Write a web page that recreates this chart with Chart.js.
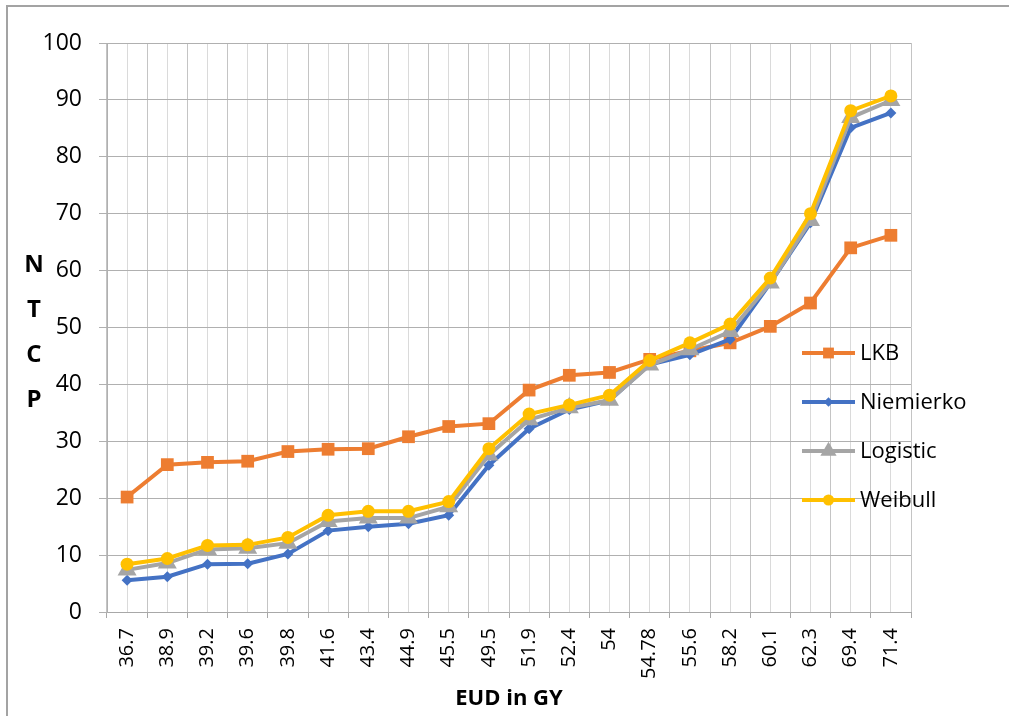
<!DOCTYPE html>
<html>
<head>
<meta charset="utf-8">
<script src="https://cdn.jsdelivr.net/npm/chart.js@4/dist/chart.umd.min.js"></script>
<style>
  html, body { margin: 0; padding: 0; background: #fff; }
  #wrap { position: relative; width: 1009px; height: 716px; overflow: hidden; }
  #frame { position: absolute; left: 6px; top: 5px; width: 1100px; height: 800px; border: 2px solid #a3a3a3; }
  canvas { position: absolute; left: 0; top: 0; }
</style>
</head>
<body>
<div id="wrap">
  <div id="frame"></div>
  <canvas id="c" width="1009" height="716"></canvas>
</div>
<script>
// EUD values (Gy) on the category axis
const eudLabels = ['36.7','38.9','39.2','39.6','39.8','41.6','43.4','44.9','45.5','49.5',
                   '51.9','52.4','54','54.78','55.6','58.2','60.1','62.3','69.4','71.4'];

// NTCP (%) per model
const lkb       = [20.2, 25.9, 26.3, 26.5, 28.2, 28.6, 28.7, 30.8, 32.6, 33.1,
                   39.0, 41.6, 42.1, 44.4, 45.9, 47.3, 50.2, 54.3, 64.0, 66.2];
const niemierko = [5.6, 6.2, 8.4, 8.5, 10.2, 14.3, 15.0, 15.5, 17.0, 25.8,
                   32.2, 35.6, 37.2, 43.5, 45.2, 47.9, 57.8, 68.4, 85.1, 87.7];
const logistic  = [7.4, 8.6, 11.0, 11.2, 12.1, 15.9, 16.5, 16.5, 18.5, 27.6,
                   33.8, 35.9, 37.2, 43.4, 46.1, 49.3, 57.8, 68.8, 86.9, 89.9];
const weibull   = [8.4, 9.4, 11.7, 11.8, 13.1, 17.0, 17.7, 17.7, 19.4, 28.7,
                   34.8, 36.4, 38.1, 44.2, 47.3, 50.6, 58.7, 70.0, 88.1, 90.7];

// y axis range and step
const yMin = 0, yMax = 100, yStep = 10;

// vertical axis title, one letter per line
const sideTitle = ['N', 'T', 'C', 'P'];
const xTitle = 'EUD in GY';

const FONT = '"Open Sans", "Noto Sans", sans-serif';

function drawMarker(ctx, style, x, y, r, color) {
  ctx.fillStyle = color;
  ctx.beginPath();
  if (style === 'rect') {
    const s = Math.SQRT1_2 * r;
    ctx.rect(x - s, y - s, 2 * s, 2 * s);
  } else if (style === 'rectRot') {
    ctx.moveTo(x, y - r); ctx.lineTo(x + r, y); ctx.lineTo(x, y + r); ctx.lineTo(x - r, y);
    ctx.closePath();
  } else if (style === 'triangle') {
    let a = 0;
    ctx.moveTo(x + Math.sin(a) * r, y - Math.cos(a) * r);
    a += 2 * Math.PI / 3;
    ctx.lineTo(x + Math.sin(a) * r, y - Math.cos(a) * r);
    a += 2 * Math.PI / 3;
    ctx.lineTo(x + Math.sin(a) * r, y - Math.cos(a) * r);
    ctx.closePath();
  } else {
    ctx.arc(x, y, r, 0, Math.PI * 2);
  }
  ctx.fill();
}

// stacked y title and the legend that sits over the right part of the plot
const overlay = {
  id: 'overlay',
  afterDraw(chart) {
    const ctx = chart.ctx;
    ctx.save();
    ctx.fillStyle = '#000';
    ctx.textAlign = 'center';
    ctx.textBaseline = 'middle';
    ctx.font = 'bold 24px ' + FONT;
    sideTitle.forEach((ch, i) => ctx.fillText(ch, 34, 265 + i * 45));

    chart.data.datasets.forEach((ds, i) => {
      const y = 353 + i * 49;
      ctx.strokeStyle = ds.borderColor;
      ctx.lineWidth = ds.borderWidth;
      ctx.beginPath();
      ctx.moveTo(802, y);
      ctx.lineTo(855, y);
      ctx.stroke();
      drawMarker(ctx, ds.pointStyle, 828.5, y, ds.pointRadius * 0.85, ds.pointBackgroundColor);
      ctx.fillStyle = '#000';
      ctx.textAlign = 'left';
      ctx.font = '22px ' + FONT;
      ctx.fillText(ds.label, 860, y + 1);
    });
    ctx.restore();
  }
};

function series(label, data, color, style, radius, order) {
  return {
    label, data, order,
    borderColor: color, backgroundColor: color,
    pointBackgroundColor: color, pointBorderColor: color,
    pointStyle: style, pointRadius: radius, pointBorderWidth: 0,
    borderWidth: 4, tension: 0, fill: false
  };
}

new Chart(document.getElementById('c'), {
  type: 'line',
  data: {
    labels: eudLabels,
    datasets: [
      series('LKB', lkb, '#ED7D31', 'rect', 9, 4),
      series('Niemierko', niemierko, '#4472C4', 'rectRot', 5.5, 3),
      series('Logistic', logistic, '#A5A5A5', 'triangle', 11, 2),
      series('Weibull', weibull, '#FFC000', 'circle', 6.5, 1)
    ]
  },
  options: {
    responsive: false,
    animation: false,
    devicePixelRatio: 1,
    layout: { padding: { top: 43, right: 98, left: 0, bottom: 0 } },
    plugins: { legend: { display: false }, tooltip: { enabled: false } },
    scales: {
      x: {
        type: 'category',
        position: 'bottom',
        offset: true,
        grid: { offset: true, color: '#c4c4c4', tickColor: '#a8a8a8', tickLength: 6, lineWidth: 1 },
        border: { color: '#a8a8a8' },
        ticks: {
          autoSkip: false, minRotation: 90, maxRotation: 90, padding: 10,
          color: '#000', font: { family: FONT, size: 20 }
        },
        title: {
          display: true, text: xTitle, color: '#000',
          font: { family: FONT, size: 22, weight: 'bold' }, padding: { top: 4, bottom: 4 }
        },
        afterFit(s) { s.height = 104; }
      },
      xMinor: {
        type: 'category',
        position: 'top',
        offset: true,
        grid: { offset: false, color: '#dadada', drawTicks: false, lineWidth: 1 },
        border: { display: false },
        ticks: { display: false },
        afterFit(s) { s.height = 0; }
      },
      y: {
        min: yMin, max: yMax,
        ticks: { stepSize: yStep, padding: 17, color: '#000', font: { family: FONT, size: 23 } },
        grid: { color: '#b0b0b0', tickLength: 8, lineWidth: 1 },
        border: { color: '#b0b0b0' },
        afterFit(s) { s.width = 107; }
      }
    }
  },
  plugins: [overlay]
});
</script>
</body>
</html>
